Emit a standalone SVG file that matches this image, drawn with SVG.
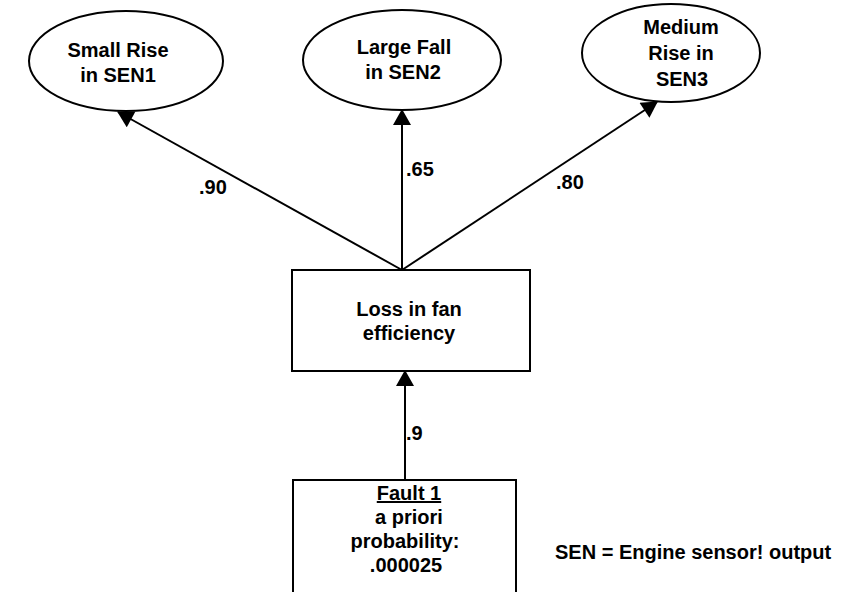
<svg xmlns="http://www.w3.org/2000/svg" width="841" height="592" viewBox="0 0 841 592">
  <style>
    .node { fill: #fff; stroke: #000; stroke-width: 2; }
    .lbl { font-family: "Liberation Sans", Arial, sans-serif; font-weight: bold; font-size: 20px; fill: #000; }
    .mid { text-anchor: middle; }
    .edge { stroke: #000; stroke-width: 2; fill: none; marker-end: url(#arrow); }
  </style>
  <defs>
    <marker id="arrow" markerUnits="userSpaceOnUse" markerWidth="18" markerHeight="18" viewBox="0 0 16 18" refX="15" refY="9" orient="auto">
      <path d="M0,0 L16,9 L0,18 Z" fill="#000"/>
    </marker>
  </defs>
  <rect width="841" height="592" fill="#fff"/>

  <g id="connectors">
    <line class="edge" x1="402" y1="270" x2="118" y2="112"/>
    <line class="edge" x1="402" y1="270" x2="402" y2="110"/>
    <line class="edge" x1="402" y1="270" x2="657" y2="102"/>
    <line class="edge" x1="405" y1="480" x2="405" y2="371"/>
    <text class="lbl" x="199" y="194">.90</text>
    <text class="lbl" x="406" y="176">.65</text>
    <text class="lbl" x="556" y="189">.80</text>
    <text class="lbl" x="406" y="440">.9</text>
  </g>

  <g id="sen1">
    <ellipse class="node" cx="126" cy="61" rx="97" ry="50"/>
    <text class="lbl mid" x="118" y="57">Small Rise</text>
    <text class="lbl mid" x="118" y="82">in SEN1</text>
  </g>

  <g id="sen2">
    <ellipse class="node" cx="402" cy="60" rx="99" ry="50"/>
    <text class="lbl mid" x="404" y="54">Large Fall</text>
    <text class="lbl mid" x="403" y="79">in SEN2</text>
  </g>

  <g id="sen3">
    <ellipse class="node" cx="671" cy="53" rx="89" ry="49"/>
    <text class="lbl mid" x="681" y="34">Medium</text>
    <text class="lbl mid" x="681" y="60">Rise in</text>
    <text class="lbl mid" x="682" y="86">SEN3</text>
  </g>

  <g id="loss">
    <rect class="node" x="292" y="270" width="238" height="101"/>
    <text class="lbl mid" x="409" y="316">Loss in fan</text>
    <text class="lbl mid" x="409" y="340">efficiency</text>
  </g>

  <g id="fault">
    <rect class="node" x="293" y="480" width="223" height="130"/>
    <text class="lbl mid" x="409" y="500" text-decoration="underline">Fault 1</text>
    <text class="lbl mid" x="409" y="524">a priori</text>
    <text class="lbl mid" x="405" y="548">probability:</text>
    <text class="lbl mid" x="406" y="572">.000025</text>
  </g>

  <g id="legend">
    <text class="lbl" x="555" y="559">SEN = Engine sensor! output</text>
  </g>
</svg>
